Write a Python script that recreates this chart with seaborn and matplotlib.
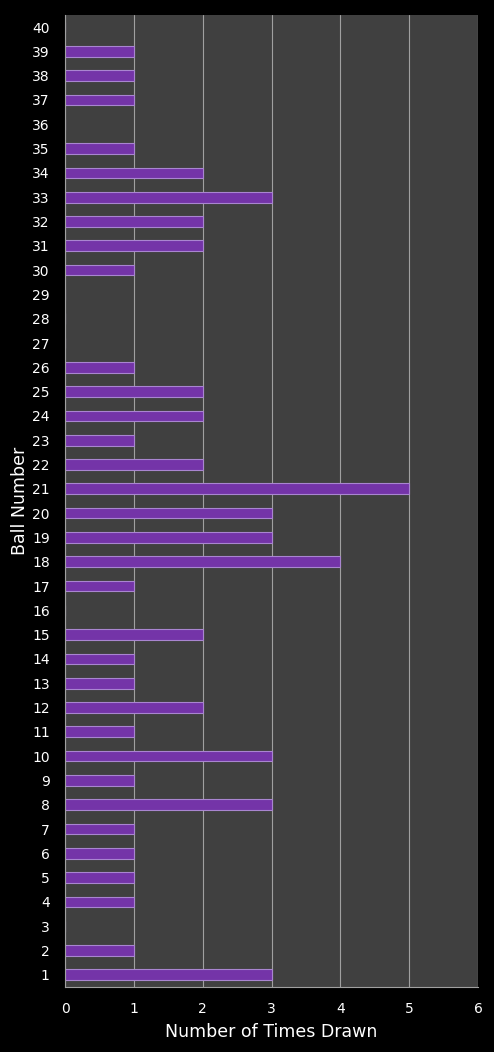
import matplotlib
matplotlib.use("Agg")
import matplotlib.pyplot as plt
import pandas as pd
import seaborn as sns

# ball numbers and how many times each was drawn
balls = list(range(1, 41))
times_drawn = [3, 1, 0, 1, 1, 1, 1, 3, 1, 3,
               1, 2, 1, 1, 2, 0, 1, 4, 3, 3,
               5, 2, 1, 2, 2, 1, 0, 0, 0, 1,
               2, 2, 3, 2, 1, 0, 1, 1, 1, 0]
x_ticks = [0, 1, 2, 3, 4, 5, 6]

df = pd.DataFrame({"ball": [str(b) for b in balls], "times": times_drawn})

sns.set_style("dark")
plt.rcParams["font.family"] = ["DejaVu Sans"]

fig = plt.figure(figsize=(4.94, 10.52), dpi=100, facecolor="black")
ax = fig.add_axes([0.1316, 0.0618, 0.836, 0.924])
ax.set_facecolor("#404040")

# vertical grid lines behind the bars
ax.set_axisbelow(True)
ax.grid(axis="x", color="#a0a0a0", linewidth=0.8)
ax.grid(axis="y", visible=False)

sns.barplot(data=df, x="times", y="ball", order=[str(b) for b in balls[::-1]],
            orient="h", color="#7434a8", edgecolor="#a985d0", linewidth=0.8,
            width=0.44, saturation=1, ax=ax)

ax.set_xlim(0, 6)
ax.set_ylim(39.5, -0.5)
ax.set_xticks(x_ticks)
ax.set_xticklabels([str(t) for t in x_ticks])

ax.tick_params(axis="both", colors="white", labelsize=10, length=0)
ax.tick_params(axis="y", pad=11)
ax.tick_params(axis="x", pad=11)
ax.set_xlabel("Number of Times Drawn", color="white", fontsize=12.5, labelpad=5)
ax.set_ylabel("Ball Number", color="white", fontsize=12.5, labelpad=2)

for side in ["top", "right"]:
    ax.spines[side].set_visible(False)
for side in ["left", "bottom"]:
    ax.spines[side].set_visible(True)
    ax.spines[side].set_color("#a0a0a0")
    ax.spines[side].set_linewidth(0.8)

fig.savefig("out.png", dpi=100, facecolor="black")
